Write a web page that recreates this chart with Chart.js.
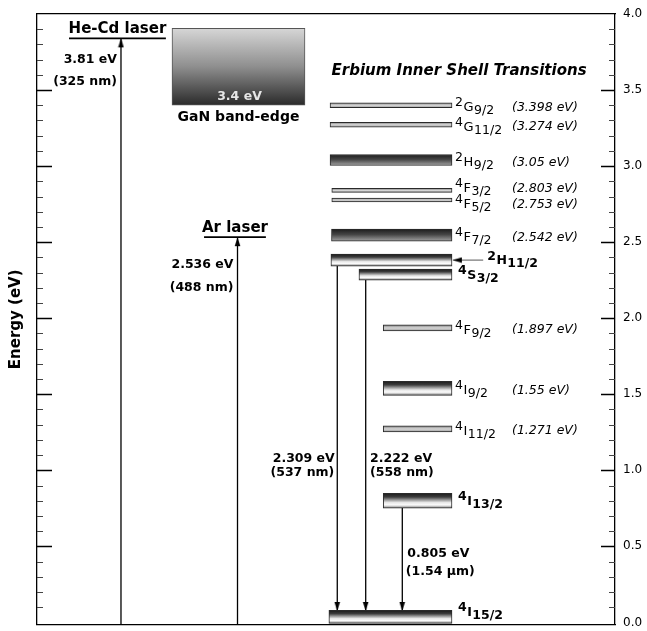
<!DOCTYPE html>
<html><head><meta charset="utf-8">
<script src="https://cdn.jsdelivr.net/npm/chart.js@4.4.0/dist/chart.umd.min.js"></script>
<style>html,body{margin:0;padding:0;background:#fff}#wrap{width:647px;height:631px;position:relative}</style>
</head><body><div id="wrap"><canvas id="c"></canvas></div>
<script>
// ---------------- data ----------------
const chartTitle = 'Erbium Inner Shell Transitions';
const yAxisTitle = 'Energy (eV)';
const yTickValues = [0, 0.5, 1, 1.5, 2, 2.5, 3, 3.5, 4];
const Y_MIN = -0.015, Y_MAX = 4;

const levelNames = ['2G9/2','4G11/2','2H9/2','4F3/2','4F5/2','4F7/2','2H11/2','4S3/2','4F9/2','4I9/2','4I11/2','4I13/2','4I15/2'];
const levelEnergy = [3.40, 3.272, 3.04, 2.84, 2.777, 2.546, 2.382, 2.287, 1.936, 1.539, 1.272, 0.80, 0.036];
const levelValueText = ['(3.398 eV)','(3.274 eV)','(3.05 eV)','(2.803 eV)','(2.753 eV)','(2.542 eV)','','','(1.897 eV)','(1.55 eV)','(1.271 eV)','',''];
const levelFrom = [50.7, 50.7, 50.7, 51.0, 51.0, 50.95, 50.85, 55.7, 59.9, 59.9, 59.9, 59.9, 50.5];
const levelTo = [71.8, 71.8, 71.8, 71.8, 71.8, 71.8, 71.8, 71.8, 71.8, 71.8, 71.8, 71.8, 71.8];

const laserNames = ['He-Cd laser', 'Ar laser'];
const laserEnergy = [3.84, 2.533];
const laserEnergyText = ['3.81 eV', '2.536 eV'];
const laserWaveText = ['(325 nm)', '(488 nm)'];
const laserX = [14.53, 34.69];
const laserLineFrom = [5.54, 28.9];
const laserLineTo = [22.3, 39.6];

const bandEdgeRange = [3.40, 3.905];
const bandEdgeX = 34.86;
const bandEdgeText = '3.4 eV';
const bandEdgeName = 'GaN band-edge';

const emissionLevel = ['2H11/2', '4S3/2', '4I13/2'];
const emissionX = [51.95, 56.87, 63.2];
const emissionTip = 0.075;
const emissionEnergyText = ['2.309 eV', '2.222 eV', '0.805 eV'];
const emissionWaveText = ['(537 nm)', '(558 nm)', '(1.54 µm)'];

const pointerLevel = '2H11/2';
const pointerFrom = 77.2;

// ---------------- styles / layout ----------------
const FAM = '"DejaVu Sans", sans-serif';
const levelThickness = [5, 5, 11, 4, 4, 12, 12, 11, 6, 14, 6, 15, 13];
const levelShade = ['thin','thin','dark','thin','thin','dark','metal','metal','thin','metal','thin','metal','metal'];
const levelBold = [false,false,false,false,false,false,true,true,false,false,false,true,true];
const levelLabelShift = [0,0,0,-4,2,0,0,0,0,0,0,0,-5];
const SHADES = {
  thin: [[0,'#7e7e7e'],[0.5,'#d6d6d6'],[1,'#9a9a9a']],
  dark: [[0,'#1c1c1c'],[0.45,'#454545'],[1,'#a2a2a2']],
  metal: [[0,'#1a1a1a'],[0.25,'#3c3c3c'],[0.62,'#e8e8e8'],[0.78,'#fbfbfb'],[1,'#7a7a7a']]
};
const LAB = {
  titleY: 3.60,
  laserEnergyY: [3.675, 2.327],
  laserWaveY: [3.533, 2.182],
  emissionEnergyY: [1.057, 1.057, 0.43],
  emissionWaveY: [0.964, 0.964, 0.312],
  emissionDx: [-2.5, 4.3, 5],
  emissionWaveDx: [-3, 4.3, 3.5]
};

// arrowhead image: tip at the canvas centre
function makeHead() {
  const c = document.createElement('canvas'); c.width = 7; c.height = 20;
  const g = c.getContext('2d'); g.fillStyle = '#000';
  g.beginPath(); g.moveTo(3.5, 10); g.lineTo(0.7, 19); g.lineTo(6.3, 19); g.closePath(); g.fill();
  return c;
}
const HEAD = makeHead();

function shadeFill(i) {
  return function (ctx) {
    const chart = ctx.chart, ys = chart.scales.y;
    if (!ys || !chart.chartArea) return '#888';
    const cy = ys.getPixelForValue(levelEnergy[i]), h = levelThickness[i];
    const g = chart.ctx.createLinearGradient(0, cy - h / 2, 0, cy + h / 2);
    SHADES[levelShade[i]].forEach(([o, c]) => g.addColorStop(o, c));
    return g;
  };
}
function bandFill(ctx) {
  const chart = ctx.chart, ys = chart.scales.y;
  if (!ys || !chart.chartArea) return '#888';
  const g = chart.ctx.createLinearGradient(0, ys.getPixelForValue(bandEdgeRange[1]), 0, ys.getPixelForValue(bandEdgeRange[0]));
  g.addColorStop(0, '#d6d6d6'); g.addColorStop(0.5, '#8e8e8e'); g.addColorStop(1, '#2a2a2a');
  return g;
}

function lineDs(points, opts) {
  return Object.assign({type: 'line', data: points, borderColor: '#000', borderWidth: 1.3, pointRadius: 0,
    fill: false, tension: 0, xAxisID: 'x', yAxisID: 'y'}, opts || {});
}
function arrowDs(points, rotation, opts) {
  return lineDs(points, Object.assign({pointStyle: HEAD, pointRotation: rotation,
    pointRadius: c => c.dataIndex === points.length - 1 ? 5 : 0, pointHoverRadius: 0}, opts || {}));
}

const datasets = [];
levelNames.forEach((n, i) => {
  datasets.push({type: 'bar', indexAxis: 'y', grouped: false, barThickness: levelThickness[i],
    data: [{x: [levelFrom[i], levelTo[i]], y: levelEnergy[i]}], xAxisID: 'x', yAxisID: 'y',
    backgroundColor: shadeFill(i), borderColor: '#2a2a2a', borderWidth: 1, borderSkipped: false});
});
datasets.push({type: 'bar', indexAxis: 'x', grouped: false, barThickness: 133,
  data: [{x: bandEdgeX, y: bandEdgeRange}], xAxisID: 'x', yAxisID: 'y',
  backgroundColor: bandFill, borderColor: '#555', borderWidth: 1, borderSkipped: false});
laserNames.forEach((n, i) => {
  datasets.push(lineDs([{x: laserLineFrom[i], y: laserEnergy[i]}, {x: laserLineTo[i], y: laserEnergy[i]}], {borderWidth: 1.6}));
  datasets.push(arrowDs([{x: laserX[i], y: Y_MIN}, {x: laserX[i], y: laserEnergy[i]}], 0));
});
emissionLevel.forEach((lv, i) => {
  const e = levelEnergy[levelNames.indexOf(lv)];
  datasets.push(arrowDs([{x: emissionX[i], y: e}, {x: emissionX[i], y: emissionTip}], 180));
});
{
  const e = levelEnergy[levelNames.indexOf(pointerLevel)];
  datasets.push(arrowDs([{x: pointerFrom, y: e}, {x: levelTo[levelNames.indexOf(pointerLevel)] + 0.15, y: e}], 270, {borderWidth: 0.9, borderColor: '#444'}));
}

function drawTerm(ctx, name, x, cy, bold) {
  const m = name.match(/^(\d)([A-Z])(.+)$/);
  const w = bold ? 'bold ' : '';
  const big = bold ? 12.5 : 13, small = 12.5;
  const dy = bold ? [-0.5, 4, 7] : [1, 5.8, 8.8];
  ctx.textAlign = 'left'; ctx.textBaseline = 'alphabetic';
  ctx.font = `${w}${small}px ${FAM}`; ctx.fillText(m[1], x, cy + dy[0]); x += ctx.measureText(m[1]).width + 0.5;
  ctx.font = `${w}${big}px ${FAM}`; ctx.fillText(m[2], x, cy + dy[1]); x += ctx.measureText(m[2]).width + 0.5;
  ctx.font = `${w}${small}px ${FAM}`; ctx.fillText(m[3], x, cy + dy[2]);
}

const annotations = {
  id: 'annotations',
  afterDraw(chart) {
    const {ctx, chartArea: a} = chart;
    const xs = chart.scales.x, ys = chart.scales.y;
    const X = v => xs.getPixelForValue(v), Y = v => ys.getPixelForValue(v);
    ctx.save();
    // inward major / minor tick marks on both vertical axes
    for (let t = 0; t < yTickValues.length - 1; t++) {
      const v0 = yTickValues[t], v1 = yTickValues[t + 1];
      for (let k = 0; k < 5; k++) {
        if (t === 0 && k === 0) continue;
        const v = v0 + (v1 - v0) * k / 5;
        const y = Math.round(Y(v)) + 0.5, major = k === 0;
        ctx.strokeStyle = major ? '#000' : '#444';
        ctx.lineWidth = major ? 1.5 : 1;
        ctx.beginPath();
        ctx.moveTo(a.left, y); ctx.lineTo(a.left + (major ? 15 : 6), y);
        ctx.moveTo(a.right, y); ctx.lineTo(a.right - (major ? 14 : 6), y);
        ctx.stroke();
      }
    }
    ctx.fillStyle = '#000';
    ctx.textBaseline = 'alphabetic';
    // title
    ctx.font = `italic bold 15px ${FAM}`; ctx.textAlign = 'left';
    ctx.fillText(chartTitle, X(levelFrom[0]) + 1.5, Y(LAB.titleY));
    // lasers
    laserNames.forEach((n, i) => {
      const cx = X((laserLineFrom[i] + laserLineTo[i]) / 2), ly = Y(laserEnergy[i]), ax = X(laserX[i]);
      ctx.font = `bold 15px ${FAM}`; ctx.textAlign = 'center';
      ctx.fillText(n, cx, ly - 5);
      ctx.font = `bold 12.5px ${FAM}`; ctx.textAlign = 'right';
      ctx.fillText(laserEnergyText[i], ax - 4, Y(LAB.laserEnergyY[i]));
      ctx.fillText(laserWaveText[i], ax - 4, Y(LAB.laserWaveY[i]));
    });
    // band edge
    {
      const bx = X(bandEdgeX), by = Y(bandEdgeRange[0]);
      ctx.textAlign = 'center';
      ctx.font = `bold 12.5px ${FAM}`; ctx.fillStyle = '#e6e6e6';
      ctx.fillText(bandEdgeText, bx + 1, by - 5.7);
      ctx.fillStyle = '#000'; ctx.font = `bold 14px ${FAM}`;
      ctx.fillText(bandEdgeName, bx, by + 15.3);
    }
    // level labels
    levelNames.forEach((name, i) => {
      const cy = Y(levelEnergy[i]) + levelLabelShift[i];
      let x0 = X(levelTo[i]) + (levelBold[i] ? 6 : 3);
      if (name === pointerLevel) x0 = X(pointerFrom) + 4;
      drawTerm(ctx, name, x0, cy, levelBold[i]);
      if (levelValueText[i]) {
        ctx.font = `italic 12.5px ${FAM}`; ctx.textAlign = 'left';
        ctx.fillText(levelValueText[i], X(levelTo[i]) + 60, cy + 5.5);
      }
    });
    // emission labels
    emissionLevel.forEach((lv, i) => {
      const ax = X(emissionX[i]);
      ctx.font = `bold 12.5px ${FAM}`;
      ctx.textAlign = LAB.emissionDx[i] < 0 ? 'right' : 'left';
      ctx.fillText(emissionEnergyText[i], ax + LAB.emissionDx[i], Y(LAB.emissionEnergyY[i]));
      ctx.fillText(emissionWaveText[i], ax + LAB.emissionWaveDx[i], Y(LAB.emissionWaveY[i]));
    });
    ctx.restore();
  }
};

Chart.defaults.font.family = FAM;
new Chart(document.getElementById('c'), {
  type: 'line',
  data: {datasets},
  options: {
    responsive: true, maintainAspectRatio: false, animation: false, events: [],
    layout: {padding: {top: 14, bottom: 4, left: 0, right: 0}},
    plugins: {legend: {display: false}, tooltip: {enabled: false}, title: {display: false}},
    scales: {
      x: {type: 'linear', position: 'bottom', min: 0, max: 100, offset: false,
        ticks: {display: false}, grid: {display: false, drawTicks: false, offset: false},
        border: {display: true, color: '#000', width: 1.3},
        afterFit(s) { s.height = 0; s.paddingLeft = 0; s.paddingRight = 0; }},
      x2: {type: 'linear', position: 'top', min: 0, max: 100, offset: false,
        ticks: {display: false}, grid: {display: false, drawTicks: false},
        border: {display: true, color: '#000', width: 1.3},
        afterFit(s) { s.height = 0; s.paddingLeft = 0; s.paddingRight = 0; }},
      yl: {type: 'linear', position: 'left', min: Y_MIN, max: Y_MAX, offset: false,
        ticks: {display: false}, grid: {display: false, drawTicks: false},
        border: {display: true, color: '#000', width: 1.3},
        title: {display: true, text: yAxisTitle, color: '#000', font: {size: 15, weight: 'bold', family: FAM}, padding: {top: 7, bottom: 0}},
        afterFit(s) { s.width = 37; s.paddingTop = 0; s.paddingBottom = 0; }},
      y: {type: 'linear', position: 'right', min: Y_MIN, max: Y_MAX, offset: false,
        afterBuildTicks(s) { s.ticks = yTickValues.map(v => ({value: v})); },
        ticks: {callback: v => Number(v).toFixed(1), color: '#000', font: {size: 12, family: FAM}, padding: 8, autoSkip: false},
        grid: {display: false, drawTicks: false, offset: false},
        border: {display: true, color: '#000', width: 1.3},
        afterFit(s) { s.width = 32; s.paddingTop = 0; s.paddingBottom = 0; }}
    }
  },
  plugins: [annotations]
});
</script>
</body></html>
